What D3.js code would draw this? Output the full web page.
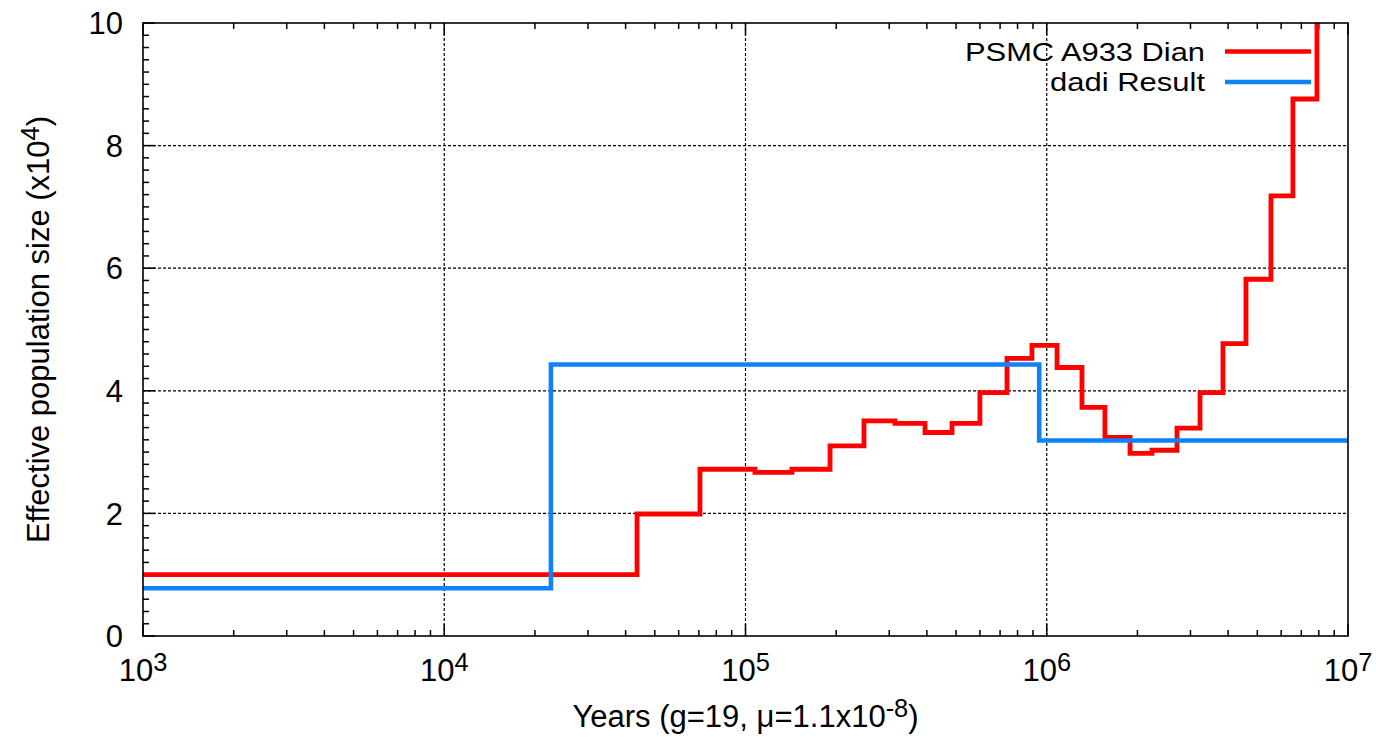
<!DOCTYPE html>
<html>
<head>
<meta charset="utf-8">
<script src="https://cdn.jsdelivr.net/npm/d3@7"></script>
<style>
  html, body { margin: 0; padding: 0; background: #fff; }
  svg { display: block; }
  text { font-family: "Liberation Sans", Arial, Helvetica, sans-serif; fill: #000; }
</style>
</head>
<body>
<script>
// PSMC trajectory (years before present, Ne in units of 10^4), drawn as a step function
const psmcYears = [1000, 43650, 70600, 107500, 142600, 190800, 247300, 313500, 394400, 484800,
                   600000, 738000, 893000, 1082000, 1309000, 1560000, 1890000, 2235000, 2706000,
                   3227000, 3846000, 4585000, 5550000, 6564000, 7887000, 10000000];
const psmcNe    = [1.00, 1.99, 2.72, 2.67, 2.72, 3.10, 3.51, 3.47, 3.32, 3.47,
                   3.97, 4.53, 4.74, 4.38, 3.73, 3.24, 2.98, 3.03, 3.39,
                   3.97, 4.77, 5.82, 7.18, 8.76, 11.5, 11.5];

// dadi best-fit demographic model
const dadiYears = [1000, 22600, 944000, 10000000];
const dadiNe    = [0.78, 4.43, 3.19, 3.19];

// axis ticks
const xMajorTicks = [1e3, 1e4, 1e5, 1e6, 1e7];
const xExponents  = ["3", "4", "5", "6", "7"];
const xGridTicks  = [1e4, 1e5, 1e6];
const yMajorTicks = [0, 2, 4, 6, 8, 10];
const yGridTicks  = [2, 4, 6, 8];

const seriesNames = ["PSMC A933 Dian", "dadi Result"];

const W = 1376, H = 737;
const margin = { left: 143, top: 23, right: 28, bottom: 101 };
const x0 = margin.left, x1 = W - margin.right;
const y0 = H - margin.bottom, y1 = margin.top;

const FONT = 31;
const RED = "#ff0000", BLUE = "#0d83f7";

const svg = d3.select("body").append("svg").attr("width", W).attr("height", H);

const x = d3.scaleLog().domain([1e3, 1e7]).range([x0, x1]);
const y = d3.scaleLinear().domain([0, 10]).range([y0, y1]);

// grid
const grid = svg.append("g").attr("stroke", "#000").attr("stroke-width", 1.2)
  .attr("stroke-dasharray", "3,2").attr("fill", "none");
grid.selectAll("line.gx").data(xGridTicks).join("line")
  .attr("x1", d => x(d)).attr("x2", d => x(d)).attr("y1", y0).attr("y2", y1);
grid.selectAll("line.gy").data(yGridTicks).join("line")
  .attr("y1", d => y(d)).attr("y2", d => y(d)).attr("x1", x0).attr("x2", x1);

// minor x ticks (2..9 within each decade)
const xMinor = [];
for (let e = 3; e < 7; e++) for (let m = 2; m <= 9; m++) xMinor.push(m * Math.pow(10, e));
const yMinor = d3.range(0, 10.001, 0.2).filter(v => Math.abs(v / 2 - Math.round(v / 2)) > 1e-6);

const ticks = svg.append("g").attr("stroke", "#000").attr("stroke-width", 1.5);
const MAJ = 12, MIN = 6;
// bottom & top
ticks.selectAll("line.bmin").data(xMinor).join("line")
  .attr("x1", d => x(d)).attr("x2", d => x(d)).attr("y1", y0).attr("y2", y0 - MIN);
ticks.selectAll("line.tmin").data(xMinor).join("line")
  .attr("x1", d => x(d)).attr("x2", d => x(d)).attr("y1", y1).attr("y2", y1 + MIN);
ticks.selectAll("line.bmaj").data(xMajorTicks).join("line")
  .attr("x1", d => x(d)).attr("x2", d => x(d)).attr("y1", y0).attr("y2", y0 - MAJ);
ticks.selectAll("line.tmaj").data(xMajorTicks).join("line")
  .attr("x1", d => x(d)).attr("x2", d => x(d)).attr("y1", y1).attr("y2", y1 + MAJ);
// left
ticks.selectAll("line.lmin").data(yMinor).join("line")
  .attr("y1", d => y(d)).attr("y2", d => y(d)).attr("x1", x0).attr("x2", x0 + MIN);
ticks.selectAll("line.lmaj").data(yMajorTicks).join("line")
  .attr("y1", d => y(d)).attr("y2", d => y(d)).attr("x1", x0).attr("x2", x0 + MAJ);

// data lines, clipped to the plot frame
svg.append("clipPath").attr("id", "plotclip").append("rect")
  .attr("x", x0).attr("y", y1).attr("width", x1 - x0).attr("height", y0 - y1);

const step = d3.line().curve(d3.curveStepAfter).x(d => x(d[0])).y(d => y(d[1]));
const psmcPts = psmcYears.map((t, i) => [t, psmcNe[i]]);
const dadiPts = dadiYears.map((t, i) => [t, dadiNe[i]]);

const plot = svg.append("g").attr("clip-path", "url(#plotclip)");
plot.append("path").datum(psmcPts).attr("d", step)
  .attr("fill", "none").attr("stroke", RED).attr("stroke-width", 4.8)
  .attr("stroke-linejoin", "miter");
plot.append("path").datum(dadiPts).attr("d", step)
  .attr("fill", "none").attr("stroke", BLUE).attr("stroke-width", 4.6)
  .attr("stroke-linejoin", "miter");

// frame
svg.append("rect").attr("x", x0).attr("y", y1).attr("width", x1 - x0).attr("height", y0 - y1)
  .attr("fill", "none").attr("stroke", "#000").attr("stroke-width", 1.6);

// y tick labels
svg.append("g").selectAll("text").data(yMajorTicks).join("text")
  .attr("x", x0 - 20).attr("y", d => y(d)).attr("dy", "0.36em")
  .attr("text-anchor", "end").attr("font-size", FONT)
  .text(d => d);

// x tick labels: 10^n
const xl = svg.append("g").selectAll("text").data(xMajorTicks).join("text")
  .attr("x", d => x(d)).attr("y", y0 + 45).attr("text-anchor", "middle")
  .attr("font-size", FONT);
xl.append("tspan").text("10");
xl.append("tspan").attr("dy", -10).attr("font-size", FONT * 0.82).text((d, i) => xExponents[i]);

// x axis title
const xt = svg.append("text").attr("x", (x0 + x1) / 2).attr("y", 727)
  .attr("text-anchor", "middle").attr("font-size", FONT);
xt.append("tspan").text("Years (g=19, \u03bc=1.1x10");
xt.append("tspan").attr("dy", -10).attr("font-size", FONT * 0.82).text("-8");
xt.append("tspan").attr("dy", 10).text(")");

// y axis title
const yt = svg.append("text")
  .attr("transform", `translate(49,${(y0 + y1) / 2}) rotate(-90)`)
  .attr("text-anchor", "middle").attr("font-size", FONT);
yt.append("tspan").text("Effective population size (x10");
yt.append("tspan").attr("dy", -10).attr("font-size", FONT * 0.82).text("4");
yt.append("tspan").attr("dy", 10).text(")");

// legend: slightly condensed height, text stretched to its natural span
const legendColors = [RED, BLUE];
const legendWidths = [240, 155];
const LFONT = 26;
const lg = svg.append("g");
const rowY = [51.5, 82];
seriesNames.forEach((name, i) => {
  lg.append("text").attr("x", 1205).attr("y", rowY[i]).attr("dy", "0.36em")
    .attr("text-anchor", "end").attr("font-size", LFONT)
    .attr("textLength", legendWidths[i]).attr("lengthAdjust", "spacingAndGlyphs")
    .text(name);
  lg.append("line").attr("x1", 1225).attr("x2", 1311).attr("y1", rowY[i]).attr("y2", rowY[i])
    .attr("stroke", legendColors[i]).attr("stroke-width", 4.6);
});
</script>
</body>
</html>
